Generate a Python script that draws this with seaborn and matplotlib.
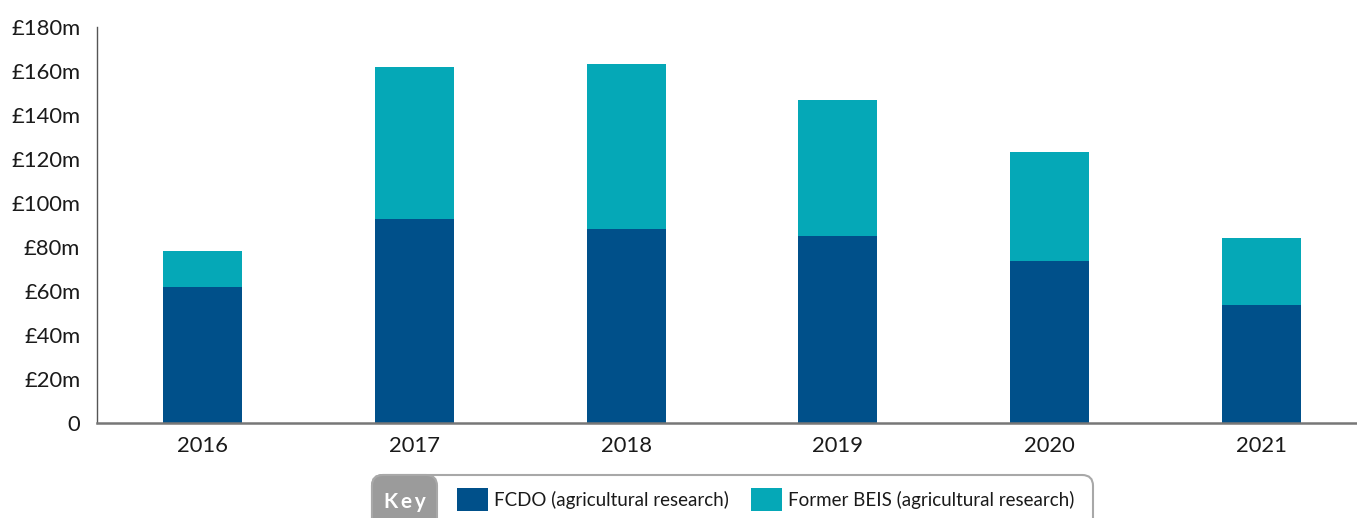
import matplotlib
matplotlib.use("Agg")
import matplotlib.pyplot as plt
import seaborn as sns
import pandas as pd
from matplotlib.patches import Patch, Rectangle, FancyBboxPatch

# Data
years = ["2016", "2017", "2018", "2019", "2020", "2021"]
fcdo = [62, 92.5, 88, 85, 73.5, 53.5]
beis = [16.2, 69.5, 75, 61.8, 49.7, 30.5]

fcdo_colour = "#00508a"
beis_colour = "#05a8b7"

df = pd.DataFrame({"year": years, "fcdo": fcdo, "beis": beis})
df["total"] = df["fcdo"] + df["beis"]

sns.set_theme(style="white")
plt.rcParams["font.family"] = ["Lato", "DejaVu Sans"]

fig = plt.figure(figsize=(13.57, 5.18), dpi=100)
ax = fig.add_axes([97 / 1357, 1 - 423 / 518, 1 - 97 / 1357, (423 - 27) / 518])

# stacked bars: total first (BEIS colour), then FCDO on top of it
sns.barplot(data=df, x="year", y="total", color=beis_colour, width=0.373,
            saturation=1, linewidth=0, ax=ax)
sns.barplot(data=df, x="year", y="fcdo", color=fcdo_colour, width=0.373,
            saturation=1, linewidth=0, ax=ax)

ax.set_ylim(0, 180)
ax.set_xlim(-0.5, 5.452)
ax.set_yticks(range(0, 181, 20))
ax.set_yticklabels(["0"] + [f"£{v}m" for v in range(20, 181, 20)])
ax.set_xlabel("")
ax.set_ylabel("")

ax.tick_params(axis="y", length=0, pad=12, labelsize=15.8, labelcolor="#1a1a1a")
ax.tick_params(axis="x", which="major", length=0, pad=9, labelsize=15.8,
               labelcolor="#1a1a1a")
ax.set_xticks([i - 0.5 for i in range(6)], minor=True)
ax.tick_params(axis="x", which="minor", length=21, width=0.8, color="#e0e0e0",
               direction="out")

for side in ["top", "right"]:
    ax.spines[side].set_visible(False)
ax.spines["left"].set_color("#555555")
ax.spines["left"].set_linewidth(1.0)
ax.spines["bottom"].set_color("#777777")
ax.spines["bottom"].set_linewidth(1.8)

# Key box
box = FancyBboxPatch((372 / 1357, -0.08), (1093 - 372) / 1357, 0.08 + 1 - 475 / 518,
                     boxstyle="round,pad=0,rounding_size=0.008",
                     transform=fig.transFigure, facecolor="white",
                     edgecolor="#a8a8a8", linewidth=1.5, mutation_aspect=2.6)
fig.patches.append(box)
tab = FancyBboxPatch((372 / 1357, -0.08), (437 - 372) / 1357, 0.08 + 1 - 475 / 518,
                     boxstyle="round,pad=0,rounding_size=0.008",
                     transform=fig.transFigure, facecolor="#9b9b9b",
                     edgecolor="#a8a8a8", linewidth=1.5, mutation_aspect=2.6)
fig.patches.append(tab)
fig.text(405 / 1357, 1 - 502 / 518, "K\u2009e\u2009y", color="white", fontsize=15,
         fontweight="bold", ha="center", va="center")

handles = [Patch(facecolor=fcdo_colour, edgecolor="none"),
           Patch(facecolor=beis_colour, edgecolor="none")]
labels = ["FCDO (agricultural research)", "Former BEIS (agricultural research)"]
fig.legend(handles, labels, loc="center left", ncol=2,
           bbox_to_anchor=(457 / 1357, 1 - 499.5 / 518), frameon=False,
           fontsize=13.5, handlelength=1.65, handleheight=1.55,
           handletextpad=0.32, columnspacing=1.17, borderpad=0, borderaxespad=0,
           labelcolor="#1a1a1a")

fig.savefig("out.png", dpi=100)
